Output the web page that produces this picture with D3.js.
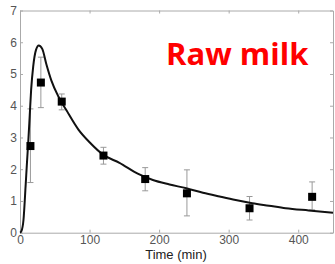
<!DOCTYPE html>
<html>
<head>
<meta charset="utf-8">
<script src="https://cdn.jsdelivr.net/npm/d3@7"></script>
<style>
  body { margin: 0; background: #fff; }
  svg { display: block; }
</style>
</head>
<body>
<div id="chart"></div>
<script>
// measured points (time in min, value, error bar low/high)
const obsTime = [15, 30, 60, 120, 180, 240, 330, 420];
const obsValue = [2.73, 4.73, 4.13, 2.43, 1.69, 1.24, 0.77, 1.13];
const obsLow = [1.58, 3.94, 3.87, 2.16, 1.32, 0.53, 0.40, 0.72];
const obsHigh = [3.9, 5.53, 4.37, 2.69, 2.05, 1.98, 1.14, 1.60];

// fitted curve
const fitTime = [0, 2, 5, 8, 10, 12, 14, 16, 19, 23, 27, 32, 38, 45, 55, 67, 84, 100, 120, 143, 170, 191, 215, 239, 263, 287, 310, 334, 358, 382, 415, 450];
const fitValue = [0, 0.05, 0.4, 1.45, 2.2, 2.9, 3.7, 4.5, 5.24, 5.76, 5.9, 5.79, 5.3, 4.8, 4.3, 3.85, 3.25, 2.85, 2.45, 2.2, 1.85, 1.66, 1.52, 1.40, 1.26, 1.14, 1.03, 0.93, 0.85, 0.77, 0.70, 0.63];

const xTicks = [0, 100, 200, 300, 400];
const yTicks = [0, 1, 2, 3, 4, 5, 6, 7];

const width = 335, height = 264;
const mLeft = 20, mRight = 333, mTop = 10.5, mBottom = 232.7;

const x = d3.scaleLinear().domain([0, 450]).range([mLeft, mRight]);
const y = d3.scaleLinear().domain([0, 7]).range([mBottom, mTop]);

const svg = d3.select("#chart").append("svg")
  .attr("width", width)
  .attr("height", height)
  .style("font-family", "'Liberation Sans', Arial, sans-serif");

const axisColor = "#aaa";
const labelColor = "#555";

// bottom and left axes, ticks pointing inside
const xAxis = svg.append("g")
  .attr("transform", `translate(0,${mBottom})`)
  .call(d3.axisBottom(x).tickValues(xTicks).tickFormat(d3.format("d"))
    .tickSizeInner(-3).tickSizeOuter(0).tickPadding(3));
const yAxis = svg.append("g")
  .attr("transform", `translate(${mLeft},0)`)
  .call(d3.axisLeft(y).tickValues(yTicks).tickFormat(d3.format("d"))
    .tickSizeInner(-3).tickSizeOuter(0).tickPadding(3));
// top and right box sides with ticks
svg.append("g")
  .attr("transform", `translate(0,${mTop})`)
  .call(d3.axisTop(x).tickValues(xTicks).tickSizeInner(-3).tickSizeOuter(0).tickFormat(""));
svg.append("g")
  .attr("transform", `translate(${mRight},0)`)
  .call(d3.axisRight(y).tickValues(yTicks).tickSizeInner(-3).tickSizeOuter(0).tickFormat(""));

svg.selectAll(".domain, .tick line").attr("stroke", axisColor);
svg.selectAll(".tick text").attr("fill", labelColor).style("font-size", "12px");

// error bars
const errG = svg.append("g").attr("stroke", "#999").attr("stroke-width", 1);
obsTime.forEach((t, i) => {
  errG.append("line")
    .attr("x1", x(t)).attr("x2", x(t))
    .attr("y1", y(obsLow[i])).attr("y2", y(obsHigh[i]));
  [obsLow[i], obsHigh[i]].forEach(v => {
    errG.append("line")
      .attr("x1", x(t) - 3).attr("x2", x(t) + 3)
      .attr("y1", y(v)).attr("y2", y(v));
  });
});

// fitted curve
const line = d3.line()
  .x((d, i) => x(fitTime[i]))
  .y(d => y(d))
  .curve(d3.curveMonotoneX);
svg.append("path")
  .datum(fitValue)
  .attr("fill", "none")
  .attr("stroke", "#111")
  .attr("stroke-width", 2)
  .attr("d", line);

// markers
svg.append("g")
  .selectAll("rect")
  .data(obsValue)
  .join("rect")
  .attr("x", (d, i) => x(obsTime[i]) - 4)
  .attr("y", d => y(d) - 4)
  .attr("width", 8)
  .attr("height", 8)
  .attr("fill", "#000");

// axis title
svg.append("text")
  .attr("x", 176)
  .attr("y", 259)
  .attr("text-anchor", "middle")
  .attr("fill", "#222")
  .style("font-size", "13px")
  .text("Time (min)");

// panel label
svg.append("text")
  .attr("x", 166)
  .attr("y", 65)
  .attr("fill", "#ff0000")
  .style("font-family", "'Open Sans', sans-serif")
  .style("font-weight", "bold")
  .style("font-size", "31px")
  .text("Raw milk");
</script>
</body>
</html>
